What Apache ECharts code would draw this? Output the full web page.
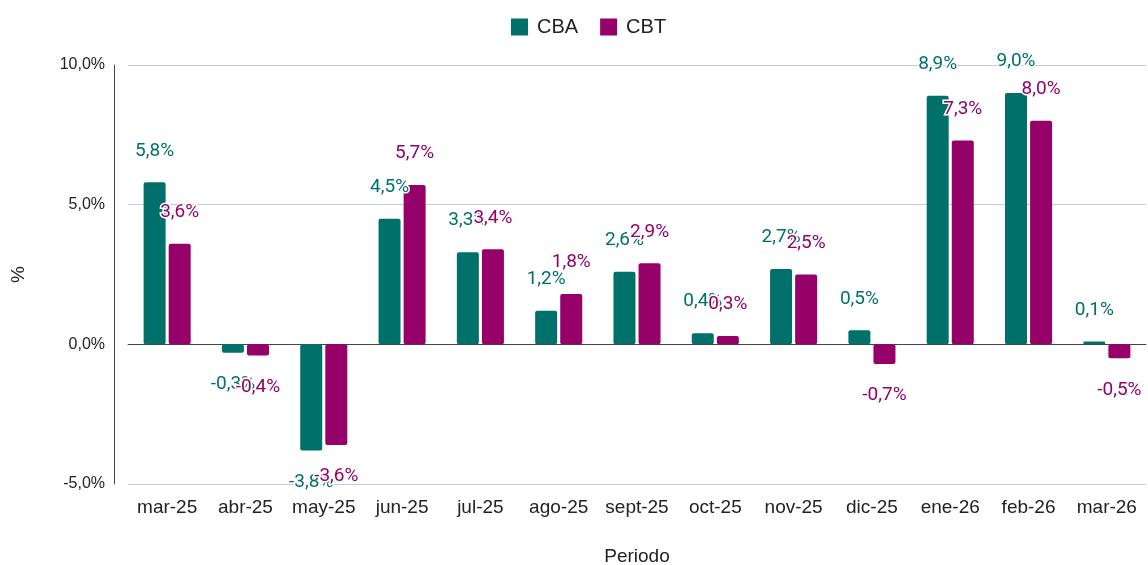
<!DOCTYPE html>
<html>
<head>
<meta charset="utf-8">
<script src="https://cdn.jsdelivr.net/npm/echarts@6/dist/echarts.min.js"></script>
<style>
  html, body { margin: 0; padding: 0; background: #fff; }
  #chart { width: 1148px; height: 565px; }
</style>
</head>
<body>
<div id="chart"></div>
<script>
// periodos y variaciones (%)
const categories = ['mar-25', 'abr-25', 'may-25', 'jun-25', 'jul-25', 'ago-25', 'sept-25', 'oct-25', 'nov-25', 'dic-25', 'ene-26', 'feb-26', 'mar-26']
const cbaValues = [5.8, -0.3, -3.8, 4.5, 3.3, 1.2, 2.6, 0.4, 2.7, 0.5, 8.9, 9.0, 0.1]
const cbtValues = [3.6, -0.4, -3.6, 5.7, 3.4, 1.8, 2.9, 0.3, 2.5, -0.7, 7.3, 8.0, -0.5]

const fmt = v => v.toFixed(1).replace('.', ',') + '%'
const AXIS_FONT = '"Liberation Sans", Arial, sans-serif'
const LABEL_FONT = 'Roboto'

// etiquetas arriba para positivos, abajo para negativos
function toData (values) {
  return values.map(v => ({
    value: v,
    label: { position: v < 0 ? 'bottom' : 'top' }
  }))
}

function barSeries (name, color, values) {
  return {
    name: name,
    type: 'bar',
    barWidth: 22,
    barGap: '14%',
    itemStyle: { color: color, borderRadius: 2 },
    label: {
      show: true,
      distance: 22,
      color: color,
      fontFamily: LABEL_FONT,
      fontSize: 19,
      textBorderColor: '#fff',
      textBorderWidth: 3,
      formatter: p => fmt(p.value)
    },
    data: toData(values)
  }
}

const chart = echarts.init(document.getElementById('chart'))
chart.setOption({
  animation: false,
  textStyle: { fontFamily: AXIS_FONT },
  legend: {
    top: 12,
    left: 506,
    itemWidth: 17,
    itemHeight: 17,
    itemGap: 22,
    icon: 'rect',
    textStyle: { fontSize: 20, color: '#222', fontFamily: AXIS_FONT, padding: [0, 0, 0, 4] },
    data: ['CBA', 'CBT']
  },
  grid: {
    left: 128,
    right: 2,
    top: 65,
    bottom: 81,
    outerBoundsMode: 'none'
  },
  xAxis: {
    type: 'category',
    data: categories,
    name: 'Periodo',
    nameLocation: 'middle',
    nameGap: 63,
    nameTextStyle: { fontSize: 19, color: '#222', fontFamily: AXIS_FONT },
    axisTick: { show: false },
    axisLine: { lineStyle: { color: '#444', width: 1 } },
    axisLabel: { fontSize: 19, color: '#222', margin: 14, interval: 0, fontFamily: AXIS_FONT }
  },
  yAxis: {
    type: 'value',
    min: -5,
    max: 10,
    interval: 5,
    offset: 14,
    name: '%',
    nameLocation: 'middle',
    nameGap: 86,
    nameRotate: 90,
    nameTextStyle: { fontSize: 19, color: '#222', fontFamily: AXIS_FONT },
    axisLine: { show: true, lineStyle: { color: '#444', width: 1 } },
    axisTick: { show: false },
    axisLabel: { fontSize: 16, color: '#222', margin: 9, formatter: fmt, fontFamily: AXIS_FONT },
    splitLine: { lineStyle: { color: '#ccc' } }
  },
  series: [
    barSeries('CBA', '#00716a', cbaValues),
    barSeries('CBT', '#950069', cbtValues)
  ]
})
</script>
</body>
</html>
